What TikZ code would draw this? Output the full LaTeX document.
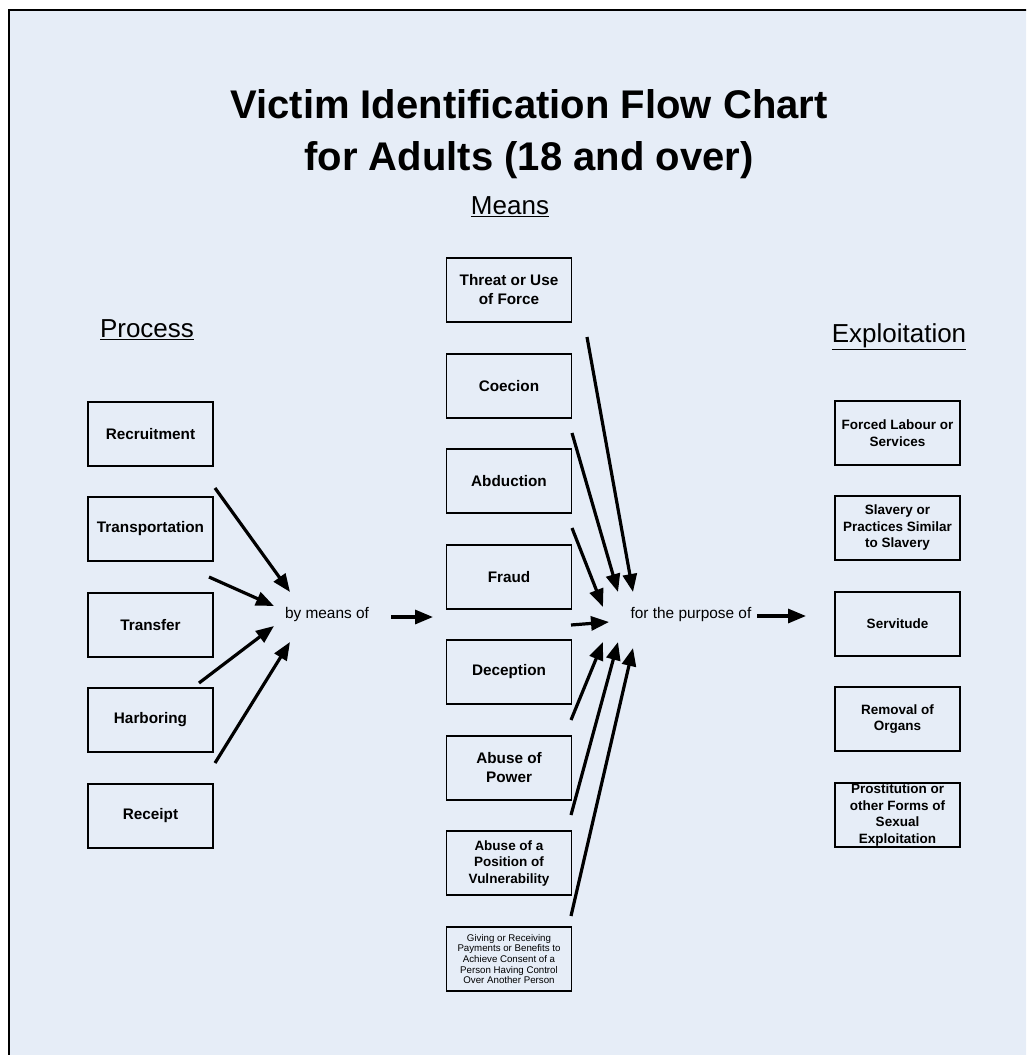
\documentclass[tikz,border=0pt]{standalone}
\usepackage{fontspec}
\setmainfont{Liberation Sans}
\usetikzlibrary{arrows.meta}
\definecolor{bgblue}{RGB}{230,237,247}
\tikzset{
  box/.style={draw=black, line width=1.8pt, minimum width=125pt, minimum height=64pt,
    align=center, inner sep=0pt, font=\bfseries\fontsize{15.3}{19}\selectfont},
  rbox/.style={box, font=\bfseries\fontsize{13.5}{16.5}\selectfont},
  sbox/.style={box, font=\fontsize{9.7}{10.7}\selectfont},
  head/.style={font=\fontsize{26}{30}\selectfont, inner sep=0pt},
  lbl/.style={font=\fontsize{15.4}{18}\selectfont, inner sep=0pt},
  arr/.style={line width=3.2pt, -{Triangle[length=18pt,width=14pt]}},
}
\begin{document}
\begin{tikzpicture}[x=1pt,y=-1pt]
\useasboundingbox (0,0) rectangle (1026,1055);
\clip (0,0) rectangle (1026,1055);
\fill[white] (0,0) rectangle (1026,1055);
\draw[fill=bgblue, line width=2pt] (9,10) rectangle (1040,1070);

\node[font=\bfseries\fontsize{40}{52}\selectfont, align=center, inner sep=0pt] (title) at (529,134)
  {Victim Identification Flow Chart\\for Adults (18 and over)};

\node[head] (hmeans) at (510,207) {\underline{Means}};
\node[head] (hproc) at (147,330) {\underline{Process}};
\node[head] (hexp) at (899,337) {\underline{Exploitation}};

% Process
\node[box] (recr) at (150.5,434) {Recruitment};
\node[box] (transp) at (150.5,529) {Transportation};
\node[box] (transf) at (150.5,625) {Transfer};
\node[box] (harb) at (150.5,720) {Harboring};
\node[box] (rec) at (150.5,816) {Receipt};

% Means
\node[box] (threat) at (509,290) {Threat or Use\\of Force};
\node[box] (coec) at (509,386) {Coecion};
\node[box] (abd) at (509,481) {Abduction};
\node[box] (fraud) at (509,577) {Fraud};
\node[box] (dec) at (509,672) {Deception};
\node[box] (abpow) at (509,768) {Abuse of\\Power};
\node[rbox] (abpos) at (509,863) {Abuse of a\\Position of\\Vulnerability};
\node[sbox] (giving) at (509,959) {Giving or Receiving\\Payments or Benefits to\\Achieve Consent of a\\Person Having Control\\Over Another Person};

% Exploitation
\node[rbox] (forced) at (897.5,433) {Forced Labour or\\Services};
\node[rbox] (slav) at (897.5,528) {Slavery or\\Practices Similar\\to Slavery};
\node[rbox] (serv) at (897.5,624) {Servitude};
\node[rbox] (organs) at (897.5,719) {Removal of\\Organs};
\node[rbox] (prost) at (897.5,815) {Prostitution or\\other Forms of\\Sexual\\Exploitation};

% middle labels
\node[lbl] (bymeans) at (327,615) {by means of};
\node[lbl] (purpose) at (691,615) {for the purpose of};

% arrow endpoints
\coordinate (p1s) at (215,488); \coordinate (p1e) at (290,592);
\coordinate (p2s) at (209,577); \coordinate (p2e) at (274,606);
\coordinate (p3s) at (199,683); \coordinate (p3e) at (274,626);
\coordinate (p4s) at (215,763); \coordinate (p4e) at (290,642);
\coordinate (bms) at (391,617); \coordinate (bme) at (433,617);

\coordinate (m1s) at (587,337); \coordinate (m1e) at (633,592);
\coordinate (m2s) at (572,433); \coordinate (m2e) at (618,592);
\coordinate (m3s) at (572,528); \coordinate (m3e) at (603,607);
\coordinate (m4s) at (571,625); \coordinate (m4e) at (609,622);
\coordinate (m5s) at (571,720); \coordinate (m5e) at (603,642);
\coordinate (m6s) at (571,815); \coordinate (m6e) at (618,642);
\coordinate (m7s) at (571,916); \coordinate (m7e) at (633,648);
\coordinate (fps) at (757,616); \coordinate (fpe) at (806,616);

\foreach \s/\e in {p1s/p1e,p2s/p2e,p3s/p3e,p4s/p4e,bms/bme,m1s/m1e,m2s/m2e,m3s/m3e,m4s/m4e,m5s/m5e,m6s/m6e,m7s/m7e,fps/fpe}
  \draw[arr] (\s) -- (\e);
\end{tikzpicture}
\end{document}
